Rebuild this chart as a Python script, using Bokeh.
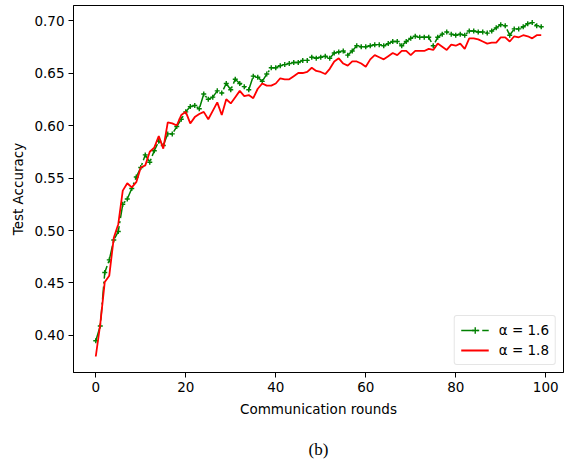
from bokeh.plotting import figure
from bokeh.models import FixedTicker, PrintfTickFormatter, Range1d, Title, Legend, LegendItem
from bokeh.embed import file_html
from bokeh.resources import INLINE

rounds = list(range(100))

acc_a16 = [0.395, 0.409, 0.460, 0.472, 0.491, 0.499, 0.525, 0.530, 0.540, 0.551,
           0.560, 0.572, 0.565, 0.576, 0.585, 0.581, 0.592, 0.592, 0.599, 0.606,
           0.613, 0.618, 0.619, 0.616, 0.630, 0.625, 0.627, 0.633, 0.631, 0.640,
           0.634, 0.644, 0.640, 0.637, 0.634, 0.647, 0.646, 0.642, 0.649, 0.655,
           0.655, 0.657, 0.658, 0.659, 0.660, 0.660, 0.662, 0.662, 0.665, 0.664,
           0.665, 0.666, 0.664, 0.669, 0.670, 0.671, 0.667, 0.671, 0.676, 0.675,
           0.675, 0.676, 0.677, 0.677, 0.676, 0.678, 0.680, 0.680, 0.676, 0.680,
           0.683, 0.685, 0.684, 0.684, 0.684, 0.676, 0.684, 0.687, 0.689, 0.687,
           0.686, 0.687, 0.686, 0.690, 0.690, 0.689, 0.689, 0.688, 0.690, 0.693,
           0.696, 0.695, 0.686, 0.692, 0.692, 0.694, 0.697, 0.698, 0.695, 0.694]

acc_a18 = [0.380, 0.411, 0.451, 0.457, 0.493, 0.506, 0.538, 0.545, 0.541, 0.546,
           0.560, 0.562, 0.575, 0.579, 0.590, 0.578, 0.603, 0.602, 0.600, 0.610,
           0.613, 0.602, 0.608, 0.611, 0.613, 0.606, 0.614, 0.622, 0.610, 0.625,
           0.621, 0.627, 0.633, 0.628, 0.629, 0.626, 0.635, 0.640, 0.638, 0.638,
           0.640, 0.645, 0.644, 0.644, 0.647, 0.650, 0.650, 0.651, 0.655, 0.652,
           0.651, 0.649, 0.654, 0.661, 0.664, 0.659, 0.657, 0.661, 0.661, 0.659,
           0.656, 0.663, 0.667, 0.665, 0.663, 0.666, 0.669, 0.667, 0.671, 0.671,
           0.667, 0.671, 0.671, 0.671, 0.673, 0.672, 0.678, 0.675, 0.672, 0.677,
           0.676, 0.678, 0.673, 0.683, 0.683, 0.682, 0.680, 0.678, 0.679, 0.679,
           0.684, 0.684, 0.680, 0.685, 0.684, 0.686, 0.685, 0.683, 0.686, 0.686]

x_ticks = [0, 20, 40, 60, 80, 100]
y_ticks = [0.40, 0.45, 0.50, 0.55, 0.60, 0.65, 0.70]
labels = ["\u03b1 = 1.6", "\u03b1 = 1.8"]

FONT = "DejaVu Sans"
FS = "13.5px"

p = figure(frame_width=490, frame_height=367, output_backend="svg", toolbar_location=None,
           x_range=Range1d(-4.95, 103.95), y_range=Range1d(0.36476, 0.71429),
           min_border_left=73, min_border_right=5, min_border_top=5, min_border_bottom=89)
p.xgrid.visible = False
p.ygrid.visible = False
p.outline_line_color = "black"
p.outline_line_width = 1
p.background_fill_color = "white"
p.border_fill_color = "white"

for ax in (p.xaxis[0], p.yaxis[0]):
    ax.axis_line_color = "black"
    ax.major_tick_line_color = "black"
    ax.major_tick_out = 5
    ax.major_tick_in = 0
    ax.minor_tick_line_color = None
    ax.major_label_text_font = FONT
    ax.major_label_text_font_size = FS
    ax.major_label_text_color = "black"
    ax.axis_label_text_font = FONT
    ax.axis_label_text_font_size = FS
    ax.axis_label_text_font_style = "normal"
    ax.axis_label_text_color = "black"
    ax.major_label_standoff = 4

p.xaxis[0].ticker = FixedTicker(ticks=x_ticks)
p.yaxis[0].ticker = FixedTicker(ticks=y_ticks)
p.yaxis[0].formatter = PrintfTickFormatter(format="%.2f")
p.xaxis[0].axis_label = "Communication rounds"
p.yaxis[0].axis_label = "Test Accuracy"
p.xaxis[0].axis_label_standoff = 6
p.yaxis[0].axis_label_standoff = 5

g_line = p.line(rounds, acc_a16, line_color="#008000", line_width=1.5, line_dash="13 3 2 3")
g_mark = p.scatter(rounds, acc_a16, marker="cross", size=5, line_color="#008000", line_width=1.4)
r_line = p.line(rounds, acc_a18, line_color="#ff0000", line_width=1.8)

legend = Legend(items=[LegendItem(label=labels[0], renderers=[g_line, g_mark]),
                       LegendItem(label=labels[1], renderers=[r_line])],
                location="bottom_right")
legend.label_text_font = FONT
legend.label_text_font_size = FS
legend.label_text_color = "black"
legend.glyph_width = 28
legend.glyph_height = 16
legend.label_height = 16
legend.label_standoff = 10
legend.spacing = 4
legend.padding = 6
legend.margin = 7
legend.border_line_color = "#cccccc"
legend.border_line_width = 1
legend.border_radius = 3
legend.background_fill_alpha = 0.8
p.add_layout(legend)

cap = Title(text="(b)", align="center", text_font="Liberation Serif",
            text_font_size="17px", text_font_style="normal", text_color="black", standoff=37)
p.add_layout(cap, "below")

open("out.html", "w").write(file_html(p, INLINE))
